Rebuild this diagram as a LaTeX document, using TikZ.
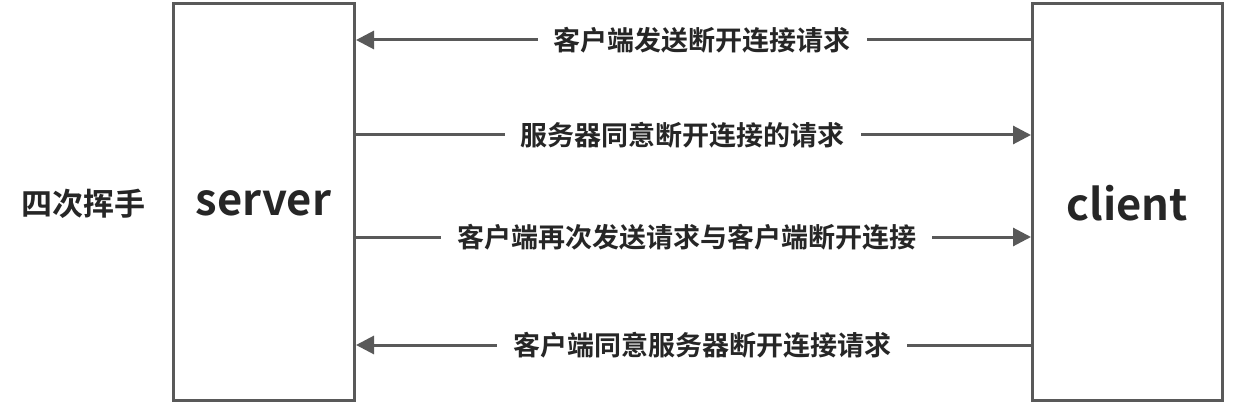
\documentclass[tikz,border=0pt]{standalone}
\usepackage{fontspec}
\newfontfamily\cjkb{Noto Sans CJK SC Bold}
\usetikzlibrary{arrows.meta}
\definecolor{edge}{HTML}{595959}
\definecolor{ink}{HTML}{262626}
\begin{document}
\begin{tikzpicture}[x=1pt,y=1pt,
  box/.style={draw=edge,line width=3pt,minimum width=181pt,minimum height=397pt,inner sep=0pt},
  msg/.style={draw=edge,line width=3pt,-{Triangle[length=18pt,width=18pt]}},
  lbl/.style={fill=white,inner xsep=16pt,inner ysep=2pt,text=ink,font=\cjkb\fontsize{27}{31}\selectfont},
  big/.style={text=ink,font=\cjkb\fontsize{43.5}{48}\selectfont}]
\useasboundingbox (0,0) rectangle (1235,405);
\node[box] (server) at (264,203) {};
\node[box,minimum width=190pt] (client) at (1127.5,203) {};
\node[big] (slab) at (263.5,202) {server};
\node[big] (clab) at (1127.5,202) {client};
\node[text=ink,font=\cjkb\fontsize{31}{35}\selectfont] (title) at (83.5,201) {四次挥手};
\draw[msg] (client.west |- 0,365) -- node[lbl,pos=0.487] (m1) {客户端发送断开连接请求} (server.east |- 0,365);
\draw[msg] (server.east |- 0,270) -- node[lbl,pos=0.484] (m2) {服务器同意断开连接的请求} (client.west |- 0,270);
\draw[msg] (server.east |- 0,168) -- node[lbl,pos=0.49] (m3) {客户端再次发送请求与客户端断开连接} (client.west |- 0,168);
\draw[msg] (client.west |- 0,60) -- node[lbl,pos=0.487] (m4) {客户端同意服务器断开连接请求} (server.east |- 0,60);
\end{tikzpicture}
\end{document}
